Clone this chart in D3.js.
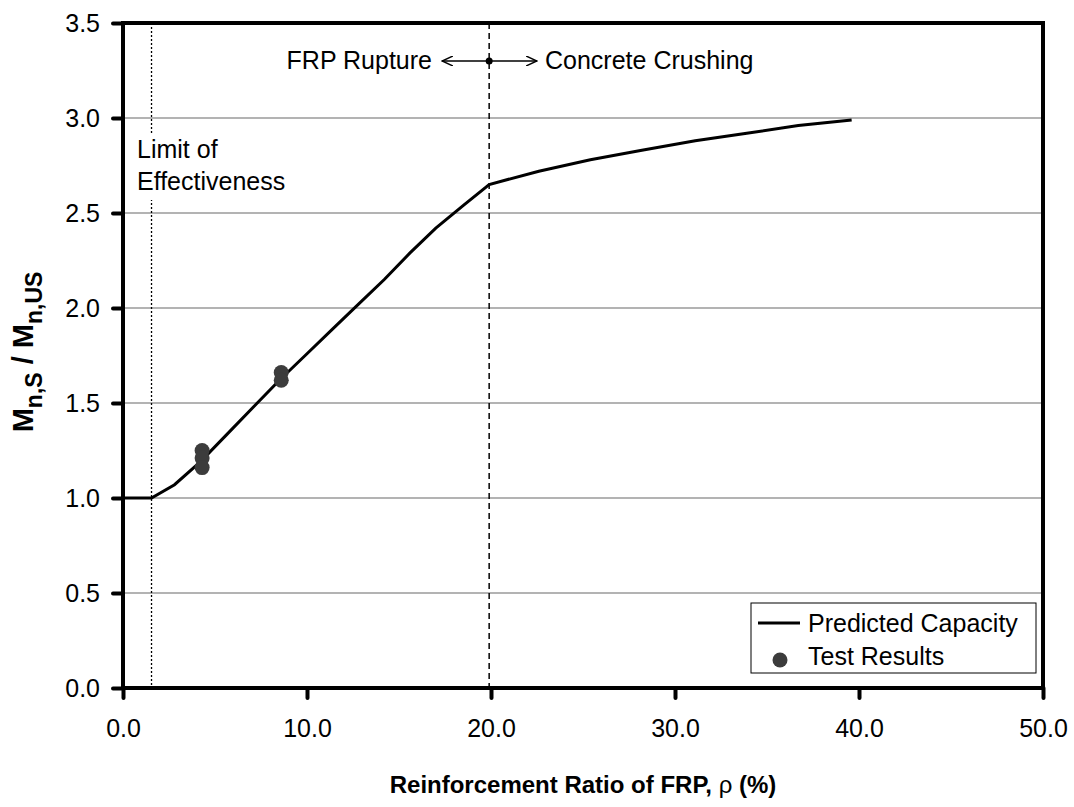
<!DOCTYPE html>
<html>
<head>
<meta charset="utf-8">
<script src="https://cdn.jsdelivr.net/npm/d3@7"></script>
<style>
  body { margin: 0; background: #fff; }
  text { font-family: Arial, "Liberation Sans", sans-serif; }
</style>
</head>
<body>
<div id="chart"></div>
<script>
// predicted capacity curve
var ratioX = [0, 1.55, 2.8, 4.2, 5.7, 7.1, 8.5, 9.9, 11.4, 12.8, 14.2, 15.6, 17.0, 18.5, 19.9, 22.6, 25.4, 28.2, 31.1, 33.9, 36.7, 39.6];
var capacityY = [1.0, 1.0, 1.07, 1.19, 1.34, 1.48, 1.62, 1.75, 1.89, 2.02, 2.15, 2.29, 2.42, 2.54, 2.65, 2.72, 2.78, 2.83, 2.88, 2.92, 2.96, 2.99];
// test results
var testX = [4.3, 4.3, 4.3, 8.6, 8.6];
var testY = [1.25, 1.21, 1.16, 1.66, 1.62];
var xTicks = [0, 10, 20, 30, 40, 50];
var yTicks = [0, 0.5, 1.0, 1.5, 2.0, 2.5, 3.0, 3.5];
var limitX = 1.55;
var transitionX = 19.9;

var margin = {top: 23, left: 123, right: 31, bottom: 119};
var W = 1074, H = 807;
var fs = 25;

var svg = d3.select('#chart').append('svg').attr('width', W).attr('height', H);

var x = d3.scaleLinear().domain([0, 50]).range([margin.left, W - margin.right]);
var y = d3.scaleLinear().domain([0, 3.5]).range([H - margin.bottom, margin.top]);

// gridlines
svg.append('g').selectAll('line').data(yTicks.slice(1, -1)).enter().append('line')
  .attr('x1', x(0)).attr('x2', x(50))
  .attr('y1', d => y(d)).attr('y2', d => y(d))
  .attr('stroke', '#9a9a9a').attr('stroke-width', 1.5);

// limit of effectiveness (dotted)
svg.append('line')
  .attr('x1', x(limitX)).attr('x2', x(limitX))
  .attr('y1', y(3.5)).attr('y2', y(0))
  .attr('stroke', '#000').attr('stroke-width', 1.3).attr('stroke-dasharray', '2,2');

// transition (dashed)
svg.append('line')
  .attr('x1', x(transitionX)).attr('x2', x(transitionX))
  .attr('y1', y(3.5)).attr('y2', y(0))
  .attr('stroke', '#000').attr('stroke-width', 1.5).attr('stroke-dasharray', '6,4');

// label box covering dotted line
svg.append('rect').attr('x', x(limitX) - 16).attr('y', 134).attr('width', 160).attr('height', 66).attr('fill', '#fff');
svg.append('text').attr('x', 137).attr('y', 158).attr('font-size', fs).text('Limit of');
svg.append('text').attr('x', 137).attr('y', 190).attr('font-size', fs).text('Effectiveness');

// curve
var line = d3.line().x(d => x(d[0])).y(d => y(d[1]));
svg.append('path').datum(d3.zip(ratioX, capacityY))
  .attr('d', line).attr('fill', 'none').attr('stroke', '#000').attr('stroke-width', 3);

// test points
svg.append('g').selectAll('circle').data(d3.zip(testX, testY)).enter().append('circle')
  .attr('cx', d => x(d[0])).attr('cy', d => y(d[1])).attr('r', 7.5).attr('fill', '#3c3c3c');

// arrows annotation
var defs = svg.append('defs');
defs.append('marker').attr('id', 'arr').attr('viewBox', '0 0 12 10').attr('refX', 11).attr('refY', 5)
  .attr('markerWidth', 12).attr('markerHeight', 10).attr('markerUnits', 'userSpaceOnUse').attr('orient', 'auto')
  .append('path').attr('d', 'M0,0 L11,5 L0,10').attr('fill', 'none').attr('stroke', '#000').attr('stroke-width', 1.5);
var ay = 61;
svg.append('line').attr('x1', x(transitionX)).attr('x2', 442).attr('y1', ay).attr('y2', ay)
  .attr('stroke', '#000').attr('stroke-width', 1.5).attr('marker-end', 'url(#arr)');
svg.append('line').attr('x1', x(transitionX)).attr('x2', 537).attr('y1', ay).attr('y2', ay)
  .attr('stroke', '#000').attr('stroke-width', 1.5).attr('marker-end', 'url(#arr)');
svg.append('circle').attr('cx', x(transitionX)).attr('cy', ay).attr('r', 3.5).attr('fill', '#000');
svg.append('text').attr('x', 432).attr('y', 69).attr('text-anchor', 'end').attr('font-size', fs).text('FRP Rupture');
svg.append('text').attr('x', 545).attr('y', 69).attr('font-size', fs).text('Concrete Crushing');

// axes
var xAxis = d3.axisBottom(x).tickValues(xTicks).tickFormat(d3.format('.1f')).tickSize(10).tickSizeOuter(0).tickPadding(21);
var yAxis = d3.axisLeft(y).tickValues(yTicks).tickFormat(d3.format('.1f')).tickSize(10).tickSizeOuter(0).tickPadding(13);
var gx = svg.append('g').attr('transform', `translate(0, ${y(0)})`).call(xAxis);
var gy = svg.append('g').attr('transform', `translate(${x(0)}, 0)`).call(yAxis);
[gx, gy].forEach(function (g) {
  g.select('.domain').remove();
  g.selectAll('line').attr('stroke', '#000').attr('stroke-width', 4).attr('stroke-linecap', 'round');
  g.selectAll('text').attr('font-size', fs).attr('fill', '#000')
    .style('font-family', 'Arial, "Liberation Sans", sans-serif');
});
gy.selectAll('text').attr('dy', '0.35em');

// frame
svg.append('rect').attr('x', x(0)).attr('y', y(3.5)).attr('width', x(50) - x(0)).attr('height', y(0) - y(3.5))
  .attr('fill', 'none').attr('stroke', '#000').attr('stroke-width', 4);

// legend
var lg = svg.append('g');
lg.append('rect').attr('x', 751).attr('y', 603).attr('width', 285).attr('height', 70)
  .attr('fill', '#fff').attr('stroke', '#000').attr('stroke-width', 1);
lg.append('line').attr('x1', 758).attr('x2', 800).attr('y1', 623).attr('y2', 623).attr('stroke', '#000').attr('stroke-width', 3);
lg.append('text').attr('x', 808).attr('y', 632).attr('font-size', fs).text('Predicted Capacity');
lg.append('circle').attr('cx', 780).attr('cy', 660).attr('r', 7.5).attr('fill', '#3c3c3c');
lg.append('text').attr('x', 808).attr('y', 665).attr('font-size', fs).text('Test Results');

// axis titles
var xt = svg.append('text').attr('x', (x(0) + x(50)) / 2).attr('y', 793).attr('text-anchor', 'middle')
  .attr('font-size', 24).attr('font-weight', 'bold');
xt.append('tspan').text('Reinforcement Ratio of FRP, ');
xt.append('tspan').attr('font-weight', 'normal').text('ρ');
xt.append('tspan').text(' (%)');

var yt = svg.append('text').attr('transform', 'translate(33, 352) rotate(-90)').attr('text-anchor', 'middle')
  .attr('font-size', 29).attr('font-weight', 'bold');
yt.append('tspan').text('M');
yt.append('tspan').attr('font-size', 23).attr('dy', 9).text('n,S');
yt.append('tspan').attr('dy', -9).text(' / M');
yt.append('tspan').attr('font-size', 23).attr('dy', 9).text('n,US');
</script>
</body>
</html>
